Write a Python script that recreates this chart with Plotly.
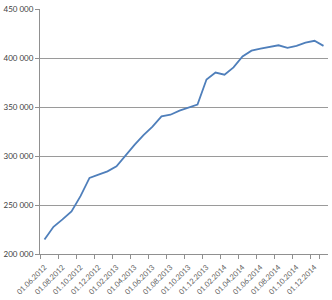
import plotly.graph_objects as go

months = [
    "01.06.2012", "01.07.2012", "01.08.2012", "01.09.2012", "01.10.2012", "01.11.2012",
    "01.12.2012", "01.01.2013", "01.02.2013", "01.03.2013", "01.04.2013", "01.05.2013",
    "01.06.2013", "01.07.2013", "01.08.2013", "01.09.2013", "01.10.2013", "01.11.2013",
    "01.12.2013", "01.01.2014", "01.02.2014", "01.03.2014", "01.04.2014", "01.05.2014",
    "01.06.2014", "01.07.2014", "01.08.2014", "01.09.2014", "01.10.2014", "01.11.2014",
    "01.12.2014", "01.01.2015",
]
values = [
    214700, 227700, 235300, 243400, 259100, 277700,
    281000, 284300, 289500, 301000, 311400, 321200,
    330000, 340400, 342100, 346300, 349000, 352500,
    378100, 385200, 383000, 390400, 401600, 407500,
    409500, 411400, 413000, 410400, 412400, 415600,
    417600, 412400,
]
y_ticks = [200000, 250000, 300000, 350000, 400000, 450000]
y_labels = ["200 000", "250 000", "300 000", "350 000", "400 000", "450 000"]

fig = go.Figure()
fig.add_trace(go.Scatter(
    x=months, y=values, mode="lines",
    line=dict(color="#4f7fbb", width=1.8),
    showlegend=False,
))

yfont = dict(family="Lato, 'Noto Sans', sans-serif", size=8, color="#404040")
xfont = dict(family="Lato, 'Noto Sans', sans-serif", size=7.5, color="#606060")

fig.update_layout(
    width=332, height=300,
    margin=dict(l=34, r=4, t=6, b=39),
    paper_bgcolor="white", plot_bgcolor="white",
    font=yfont,
    xaxis=dict(
        type="category",
        range=[-0.5, len(months) - 0.5],
        tickmode="array",
        tickvals=months[::2],
        ticktext=months[::2],
        tickson="boundaries",
        ticks="outside", ticklen=4, tickcolor="#909090",
        tickangle=-45,
        ticklabelstandoff=5,
        showgrid=False,
        showline=True, linecolor="#909090", linewidth=1,
        tickfont=xfont,
    ),
    yaxis=dict(
        range=[200000, 450000],
        tickmode="array",
        tickvals=y_ticks, ticktext=y_labels,
        ticks="outside", ticklen=4, tickcolor="#909090",
        showgrid=True, gridcolor="#9a9a9a", gridwidth=1,
        showline=True, linecolor="#909090", linewidth=1,
        zeroline=False,
        tickfont=yfont,
    ),
)

fig.write_html("out.html")
